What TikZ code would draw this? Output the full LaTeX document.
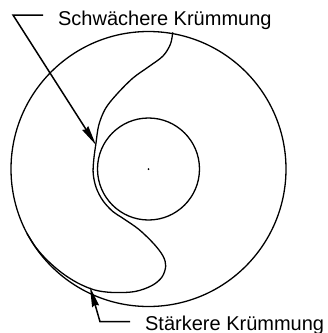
\documentclass[tikz,border=0pt]{standalone}
\usepackage{fontspec}
\setmainfont{Liberation Sans}
\usetikzlibrary{arrows.meta}
\begin{document}
\begin{tikzpicture}[x=1pt,y=-1pt,line width=1.3pt,
  lbl/.style={anchor=base west,inner sep=0pt,font=\fontsize{20}{24}\selectfont},
  pointer/.style={-{Stealth[length=20pt,width=7pt,inset=1.5pt]},line width=1.5pt}]
\useasboundingbox (0,0) rectangle (328,333);
\coordinate (c) at (148.5,169);
\draw (c) circle[radius=137.5];
\draw (c) circle[radius=51];
\fill (c) circle[radius=1];
\draw plot[smooth,tension=0.55] coordinates {
 (172.7,32.3) (170.5,44) (163,56) (149,66.5) (133,78) (117,94) (105.5,108.5)
 (98.8,125) (96,143) (93.8,159.4) (93.2,173.8) (96.3,188.0) (103.0,200.8)
 (112.8,211.5) (123.3,218.5) (139,229.5) (154,244) (163,256) (165.7,266)
 (162,277) (152,285.5) (135,291.5) (113.1,292.5) (94.7,290) (77.4,282.8)
 (61.5,272.6) (47.2,260.2) (36.1,247.7) (27.1,233.6)};
\node[lbl] (t1) at (57.5,25) {Schwächere Krümmung};
\node[lbl] (t2) at (144.5,330) {Stärkere Krümmung};
\coordinate (a1s) at (43,15);
\coordinate (a1k) at (13,15);
\coordinate (a1e) at (96,145);
\coordinate (a2s) at (130,321.7);
\coordinate (a2k) at (100,321.7);
\coordinate (a2e) at (90,287);
\draw[pointer] (a1s) -- (a1k) -- (a1e);
\draw[pointer] (a2s) -- (a2k) -- (a2e);
\end{tikzpicture}
\end{document}
